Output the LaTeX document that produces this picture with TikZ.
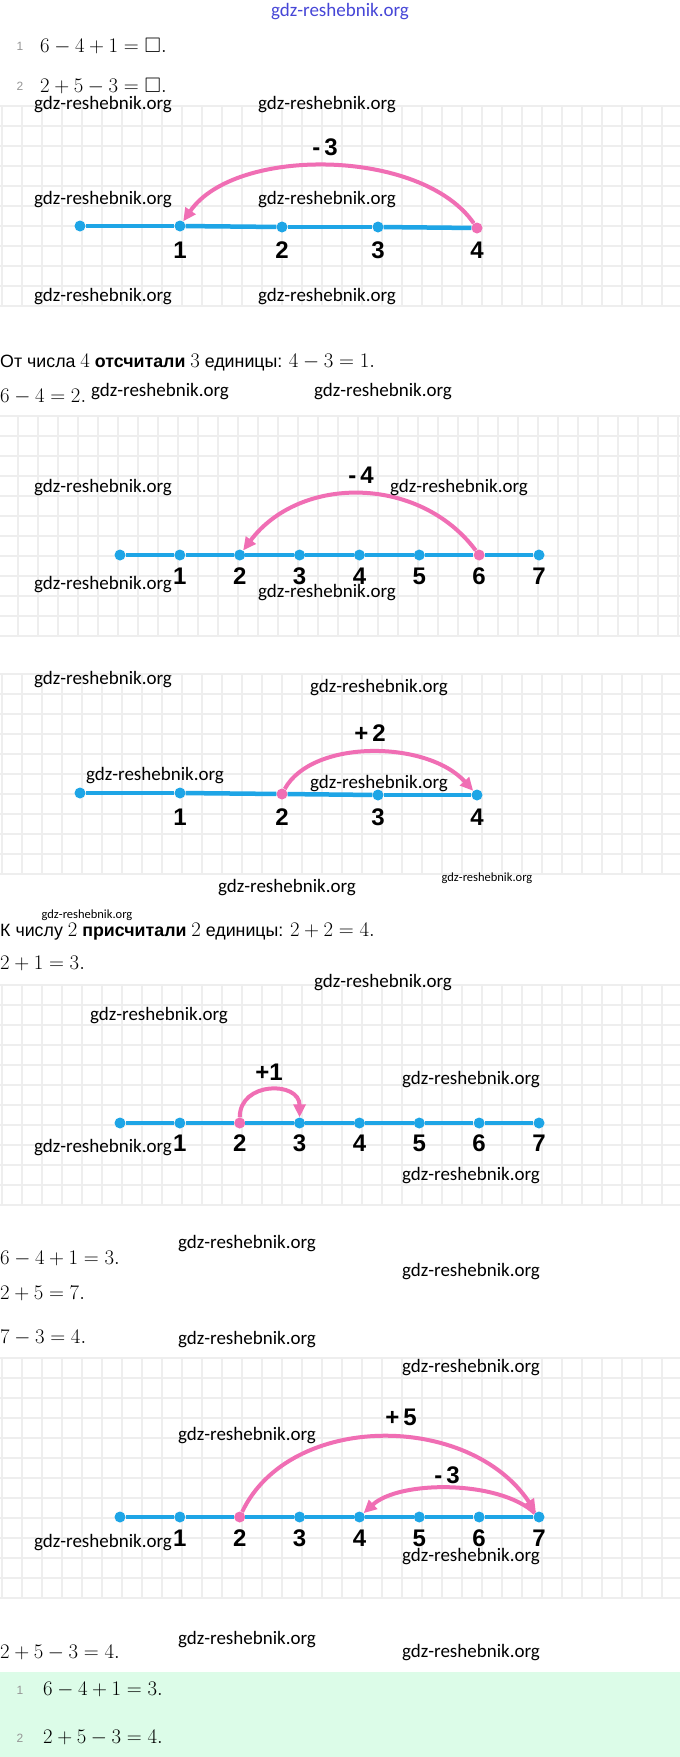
\documentclass[tikz,border=0pt]{standalone}
\usepackage{amssymb}
\usepackage{fontspec}
\setmainfont{Liberation Sans}
\newfontfamily\wmfont{Carlito}
\usetikzlibrary{arrows.meta}
\definecolor{nlblue}{RGB}{30,165,230}
\definecolor{nlpink}{RGB}{240,110,180}
\definecolor{gridc}{RGB}{238,238,238}
\definecolor{mint}{RGB}{220,252,232}
\definecolor{wmblue}{RGB}{70,70,215}
\definecolor{numgray}{RGB}{150,150,150}
\newcommand{\mth}[1]{{\fontsize{21}{25}\selectfont$#1$}}
% #1 top, #2 number of cells, #3 x offset of first vertical line
\newcommand{\mygrid}[3]{%
  \foreach \gk in {0,...,34} \draw[gridline] (#3+20*\gk,#1) -- (#3+20*\gk,#1+20*#2);
  \foreach \gk in {0,...,#2} \draw[gridline] (0,#1+20*\gk) -- (680,#1+20*\gk);
}
\tikzset{
  wm/.style={font=\wmfont\fontsize{19}{19}\selectfont, inner sep=0},
  wmsmall/.style={font=\wmfont\fontsize{12.5}{12.5}\selectfont, inner sep=0},
  eq/.style={font=\fontsize{21}{25}\selectfont, anchor=west, inner sep=0},
  txt/.style={font=\fontsize{17.8}{20}\selectfont, anchor=west, inner sep=0},
  itemnum/.style={font=\fontsize{12}{12}\selectfont, text=numgray, inner sep=0},
  dot/.style={circle, fill=nlblue, minimum size=11pt, inner sep=0},
  pdot/.style={circle, fill=nlpink, minimum size=11pt, inner sep=0},
  nl/.style={draw=nlblue, line width=4.5pt},
  jump/.style={draw=nlpink, line width=4pt, -{Triangle[length=13pt,width=12pt]}},
  lbl/.style={font=\bfseries\fontsize{24}{24}\selectfont, inner sep=0},
  gridline/.style={draw=gridc, line width=1.7pt}
}
\begin{document}
\begin{tikzpicture}[x=1pt,y=-1pt]
\useasboundingbox (0,0) rectangle (680,1757);
\fill[white] (0,0) rectangle (680,1757);

% grids
\begin{scope}
\clip (0,0) rectangle (680,1757);
\mygrid{106}{10}{2}
\mygrid{416}{11}{-2}
\mygrid{674}{10}{2}
\mygrid{985}{11}{2}
\mygrid{1358}{12}{2}
\end{scope}

% answer box
\fill[mint] (0,1672) rectangle (680,1757);

% top equations
\node[itemnum] (n1) at (20,46) {1};
\node[eq] (e1) at (40,46) {$6-4+1=\square.$};
\node[itemnum] (n2) at (20,86) {2};
\node[eq] (e2) at (40,86) {$2+5-3=\square.$};

% ---------- number line 1 ----------
\foreach \k/\xx/\yy in {0/80/226,1/180/226,2/282/227,3/378/227,4/477/228}{
  \ifnum\k=4 \def\st{pdot}\else\def\st{dot}\fi
  \node[\st] (La\k) at (\xx,\yy) {};
}
\foreach \i/\j in {0/1,1/2,2/3,3/4} \draw[nl] (La\i) -- (La\j);
\foreach \k/\xx in {1/180,2/282,3/378,4/477} \node[lbl] (Lal\k) at (\xx,250) {\k};
\draw[jump] (La4) .. controls +(-55,-80) and +(55,-80) .. (La1);
\node[lbl] (ja) at (325,147) {-\,3};

% texts
\node[txt] (t1) at (0,363) {От числа \mth{4} \textbf{отсчитали} \mth{3} единицы: \mth{4-3=1.}};
\node[eq] (t2) at (0,397) {$6-4=2.$};

% ---------- number line 2 ----------
\foreach \k in {0,...,7}{
  \ifnum\k=6 \def\st{pdot}\else\def\st{dot}\fi
  \node[\st] (Lb\k) at (120+59.86*\k,555) {};
}
\foreach \i [evaluate=\i as \j using int(\i+1)] in {0,...,6} \draw[nl] (Lb\i) -- (Lb\j);
\foreach \k in {1,...,7} \node[lbl] (Lbl\k) at (120+59.86*\k,576) {\k};
\draw[jump] (Lb6) .. controls +(-60,-80) and +(60,-80) .. (Lb2);
\node[lbl] (jb) at (361,475) {-\,4};

% ---------- number line 3 ----------
\foreach \k/\xx/\yy in {0/80/793,1/180/793,2/282/794,3/378/795,4/477/795}{
  \ifnum\k=2 \def\st{pdot}\else\def\st{dot}\fi
  \node[\st] (Lc\k) at (\xx,\yy) {};
}
\foreach \i/\j in {0/1,1/2,2/3,3/4} \draw[nl] (Lc\i) -- (Lc\j);
\foreach \k/\xx in {1/180,2/282,3/378,4/477} \node[lbl] (Lcl\k) at (\xx,817) {\k};
\draw[jump] (Lc2) .. controls +(30,-55) and +(-50,-55) .. (Lc4);
\node[lbl] (jc) at (370,733) {+\,2};

\node[txt] (t3) at (0,932) {К числу \mth{2} \textbf{присчитали} \mth{2} единицы: \mth{2+2=4.}};
\node[eq] (t4) at (0,963) {$2+1=3.$};

% ---------- number line 4 ----------
\foreach \k in {0,...,7}{
  \ifnum\k=2 \def\st{pdot}\else\def\st{dot}\fi
  \node[\st] (Ld\k) at (120+59.86*\k,1123) {};
}
\foreach \i [evaluate=\i as \j using int(\i+1)] in {0,...,6} \draw[nl] (Ld\i) -- (Ld\j);
\foreach \k in {1,...,7} \node[lbl] (Ldl\k) at (120+59.86*\k,1143) {\k};
\draw[jump] (Ld2) .. controls +(0,-42) and +(0,-42) .. (Ld3);
\node[lbl] (jd) at (269,1072) {+1};

\node[eq] (t5) at (0,1259) {$6-4+1=3.$};
\node[eq] (t6) at (0,1293) {$2+5=7.$};
\node[eq] (t7) at (0,1338) {$7-3=4.$};

% ---------- number line 5 ----------
\foreach \k in {0,...,7}{
  \ifnum\k=2 \def\st{pdot}\else\def\st{dot}\fi
  \node[\st] (Le\k) at (120+59.86*\k,1517) {};
}
\foreach \i [evaluate=\i as \j using int(\i+1)] in {0,...,6} \draw[nl] (Le\i) -- (Le\j);
\foreach \k in {1,...,7} \node[lbl] (Lel\k) at (120+59.86*\k,1538) {\k};
\draw[jump] (Le2) .. controls +(50,-105) and +(-70,-105) .. (Le7);
\draw[jump] (Le7) .. controls +(-40,-37) and +(40,-37) .. (Le4);
\node[lbl] (je1) at (401,1417) {+\,5};
\node[lbl] (je2) at (447,1475) {-\,3};

\node[eq] (t8) at (0,1653) {$2+5-3=4.$};

% answers
\node[itemnum] (a1) at (20,1690) {1};
\node[eq] (ae1) at (43,1690) {$6-4+1=3.$};
\node[itemnum] (a2) at (20,1738) {2};
\node[eq] (ae2) at (43,1738) {$2+5-3=4.$};

% watermarks
\node[wm, text=wmblue] (w0) at (340,12) {gdz-reshebnik.org};
\foreach \wx/\wy [count=\wi] in {103/105,327/105,103/200,327/200,103/297,327/297,
  160/392,383/392,103/488,459/488,103/585,327/593,103/680,379/688,155/776,379/784,
  287/888,383/983,159/1016,471/1080,103/1148,471/1176,247/1244,471/1272,
  247/1340,471/1368,247/1436,103/1543,471/1557,247/1640,471/1653}
  \node[wm] (w\wi) at (\wx,\wy) {gdz-reshebnik.org};
\node[wmsmall] (ws1) at (487,878) {gdz-reshebnik.org};
\node[wmsmall] (ws2) at (87,915) {gdz-reshebnik.org};
\end{tikzpicture}
\end{document}
